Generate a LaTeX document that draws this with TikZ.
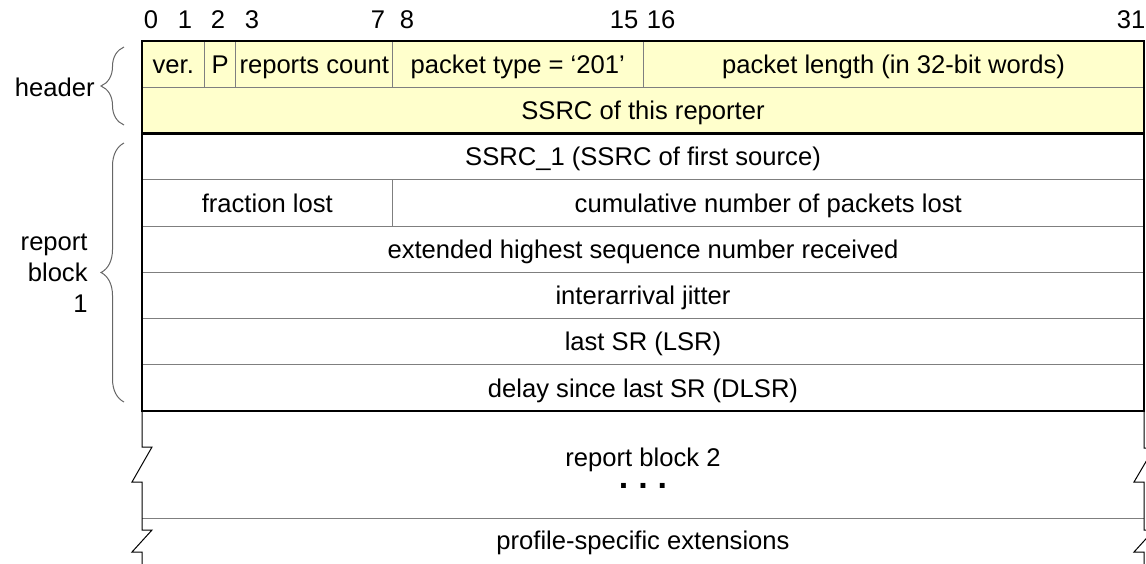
\documentclass[tikz,border=0pt]{standalone}
\usepackage{fontspec}
\setmainfont{Liberation Sans}
\usetikzlibrary{positioning,decorations.pathreplacing}
\definecolor{HeaderYellow}{HTML}{FFFFCC}
\definecolor{RuleGray}{HTML}{7F7F7F}
\newcommand{\bitw}{15.65625pt}

\begin{document}
\begin{tikzpicture}[
      x=0.5pt,y=-0.5pt,
      node distance=0pt,
      field/.style={
        draw=RuleGray,
        line width=0.5pt,
        inner sep=0pt,
        outer sep=0pt,
        minimum height=23.125pt,
        text height=9.2pt,
        text depth=0pt,
        font=\fontsize{12.8}{15}\selectfont
      },
      hdrfield/.style={field,fill=HeaderYellow},
      bitnum/.style={anchor=base,font=\fontsize{12.8}{15}\selectfont},
      frameline/.style={line width=1.1pt,black},
      cutline/.style={line width=0.5pt,black},
      brace/.style={decorate,decoration={brace,amplitude=11.5pt},draw=black!60,line width=0.5pt},
      sidelabel/.style={anchor=east,align=right,inner sep=0pt,font=\fontsize{12.8}{15.5}\selectfont},
      plain/.style={inner sep=1pt,text height=9.2pt,text depth=0pt,font=\fontsize{12.8}{15}\selectfont}
    ]
      \useasboundingbox (0,0) rectangle (1146,563);
      \clip (0,0) rectangle (1146,563);
      % bit numbers
      \foreach \b/\x in {0/151,1/185,2/218,3/252,7/378,8/407,15/624,16/661,31/1131}
        \node[bitnum] (bit\b) at (\x,28) {\b};
      % header
      \node[hdrfield,minimum width=2*\bitw,anchor=north west] (ver) at (142,41) {ver.};
      \node[hdrfield,minimum width=\bitw,right=of ver] (pad) {P};
      \node[hdrfield,minimum width=5*\bitw,right=of pad] (rc) {reports count};
      \node[hdrfield,minimum width=8*\bitw,right=of rc] (ptype) {packet type = ‘201’};
      \node[hdrfield,minimum width=16*\bitw,right=of ptype] (plen) {packet length (in 32-bit words)};
      \node[hdrfield,minimum width=32*\bitw,below right=of ver.south west] (ssrc) {SSRC of this reporter};
      % report block 1
      \node[field,minimum width=32*\bitw,below right=of ssrc.south west] (src) {SSRC\_1 (SSRC of first source)};
      \node[field,minimum width=8*\bitw,below right=of src.south west] (frac) {fraction lost};
      \node[field,minimum width=24*\bitw,right=of frac] (cum) {cumulative number of packets lost};
      \node[field,minimum width=32*\bitw,below right=of frac.south west] (ext) {extended highest sequence number received};
      \node[field,minimum width=32*\bitw,below right=of ext.south west] (jit) {interarrival jitter};
      \node[field,minimum width=32*\bitw,below right=of jit.south west] (lsr) {last SR (LSR)};
      \node[field,minimum width=32*\bitw,below right=of lsr.south west] (dlsr) {delay since last SR (DLSR)};
      \draw[frameline] (ver.north west) rectangle (dlsr.south east);
      \draw[frameline] (ssrc.south west) -- (ssrc.south east);
      % open part with cuts
      \coordinate (cutL) at (142,518);
      \coordinate (cutR) at (1144,518);
      \draw[line width=0.5pt,RuleGray] (cutL) -- (cutR);
      \draw[cutline] (dlsr.south west) -- ++(0,36) -- ++(10,0) -- ++(-20,35) -- ++(10,0)
        -- (cutL) -- ++(0,12) -- ++(10,0) -- ++(-20,22) -- ++(10,0) -- ++(0,12);
      \draw[cutline] (dlsr.south east) -- ++(0,37) -- ++(10,0) -- ++(-20,34) -- ++(10,0)
        -- (cutR) -- ++(0,12) -- ++(10,0) -- ++(-20,22) -- ++(10,0) -- ++(0,12);
      \node[plain] (rb2) at (643,457) {report block 2};
      \node[inner sep=0pt,font=\fontsize{17}{17}\selectfont\bfseries] (dots) at (643,486) {.\hspace{5pt}.\hspace{5pt}.};
      \node[plain] (prof) at (643,540) {profile-specific extensions};
      % braces
      \draw[brace] (124,125) -- (124,47);
      \node[sidelabel] (hdrlabel) at (95,87) {header};
      \draw[brace] (124,402) -- (124,143);
      \node[sidelabel] (blklabel) at (88,273) {report\\block\\1};
    \end{tikzpicture}
\end{document}
